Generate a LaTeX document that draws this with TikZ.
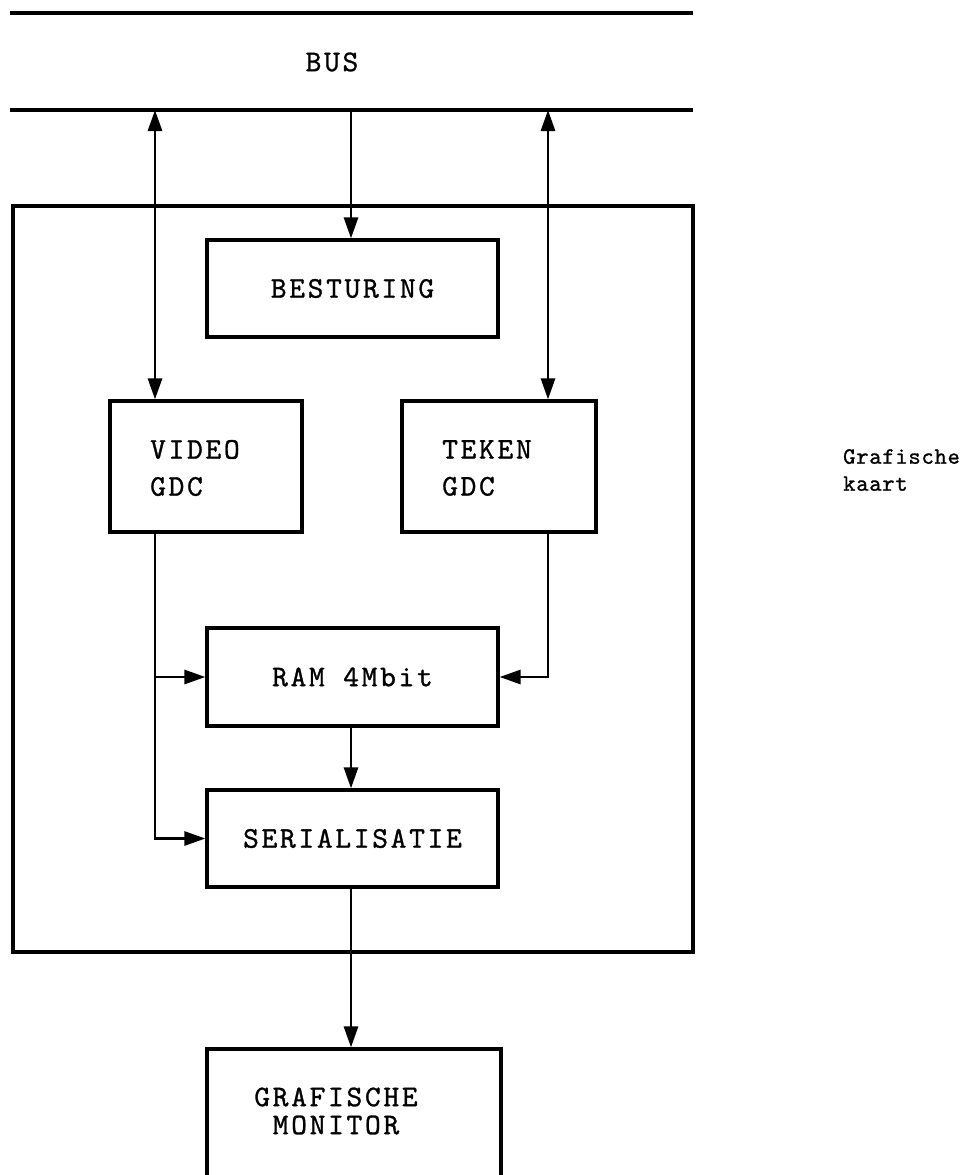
\documentclass[tikz,border=0pt]{standalone}
\usepackage{fontspec}
\setmonofont{lmmono10-regular.otf}[LetterSpace=9, FakeBold=1]
\newfontfamily\sidefont{lmmono10-regular.otf}[LetterSpace=3, FakeBold=1]
\usetikzlibrary{arrows.meta}
\begin{document}
\begin{tikzpicture}[x=1pt,y=-1pt,
  box/.style={draw, line width=3.2pt, inner sep=0pt},
  lbl/.style={font=\ttfamily\fontsize{30}{37}\selectfont, inner sep=0pt, align=left},
  lbltight/.style={font=\ttfamily\fontsize{30}{28}\selectfont, inner sep=0pt, align=center},
  lblside/.style={font=\sidefont\fontsize{23.5}{27}\selectfont, inner sep=0pt, align=left},
  wire/.style={line width=2.8pt},
  tip/.style={-{Triangle[length=21pt,width=14pt]}},
  dtip/.style={{Triangle[length=21pt,width=14pt]}-{Triangle[length=21pt,width=14pt]}}
]
\useasboundingbox (0,0) rectangle (971,1175);
\clip (0,0) rectangle (971,1175);

% bus lines
\draw[line width=3.2pt] (10,13) -- (693,13);
\draw[line width=3.2pt] (10,110) -- (693,110);
\node[lbl] (busT) at (332,62) {BUS};
\coordinate (busL) at (155,110);
\coordinate (busM) at (351,110);
\coordinate (busR) at (548,110);

% graphics card outline
\node[box, minimum width=680pt, minimum height=746pt] (card) at (353,579) {};

% blocks
\node[box, minimum width=291pt, minimum height=97pt] (bes) at (352.5,288.5) {};
\node[box, minimum width=192pt, minimum height=131pt] (video) at (206,466.5) {};
\node[box, minimum width=194pt, minimum height=131pt] (teken) at (499,466.5) {};
\node[box, minimum width=291pt, minimum height=98pt] (ram) at (352.5,677) {};
\node[box, minimum width=291pt, minimum height=97pt] (ser) at (352.5,838.5) {};
\node[box, minimum width=294pt, minimum height=151pt] (mon) at (354,1124.5) {};

% labels
\node[lbl] (besT) at (bes) {BESTURING};
\node[lbl, anchor=west] (vidT) at (150,468) {VIDEO\\GDC};
\node[lbl, anchor=west] (tekT) at (442,468) {TEKEN\\GDC};
\node[lbl] (ramT) at (ram) {RAM 4Mbit};
\node[lbl] (serT) at (ser) {SERIALISATIE};
\node[lbltight] (monT) at (336,1111) {GRAFISCHE\\MONITOR};
\node[lblside, anchor=west] (cardT) at (843,470) {Grafische\\kaart};

% connections
\draw[wire, dtip] (busL) -- (busL |- video.north);
\draw[wire, tip] (busM) -- (busM |- bes.north);
\draw[wire, dtip] (busR) -- (busR |- teken.north);
\draw[wire, tip] (busL |- video.south) -- (busL |- ser.west) -- (ser.west);
\draw[wire, tip] (busL |- ram.west) -- (ram.west);
\draw[wire, tip] (busR |- teken.south) -- (busR |- ram.east) -- (ram.east);
\draw[wire, tip] (busM |- ram.south) -- (busM |- ser.north);
\draw[wire, tip] (busM |- ser.south) -- (busM |- mon.north);
\end{tikzpicture}
\end{document}
